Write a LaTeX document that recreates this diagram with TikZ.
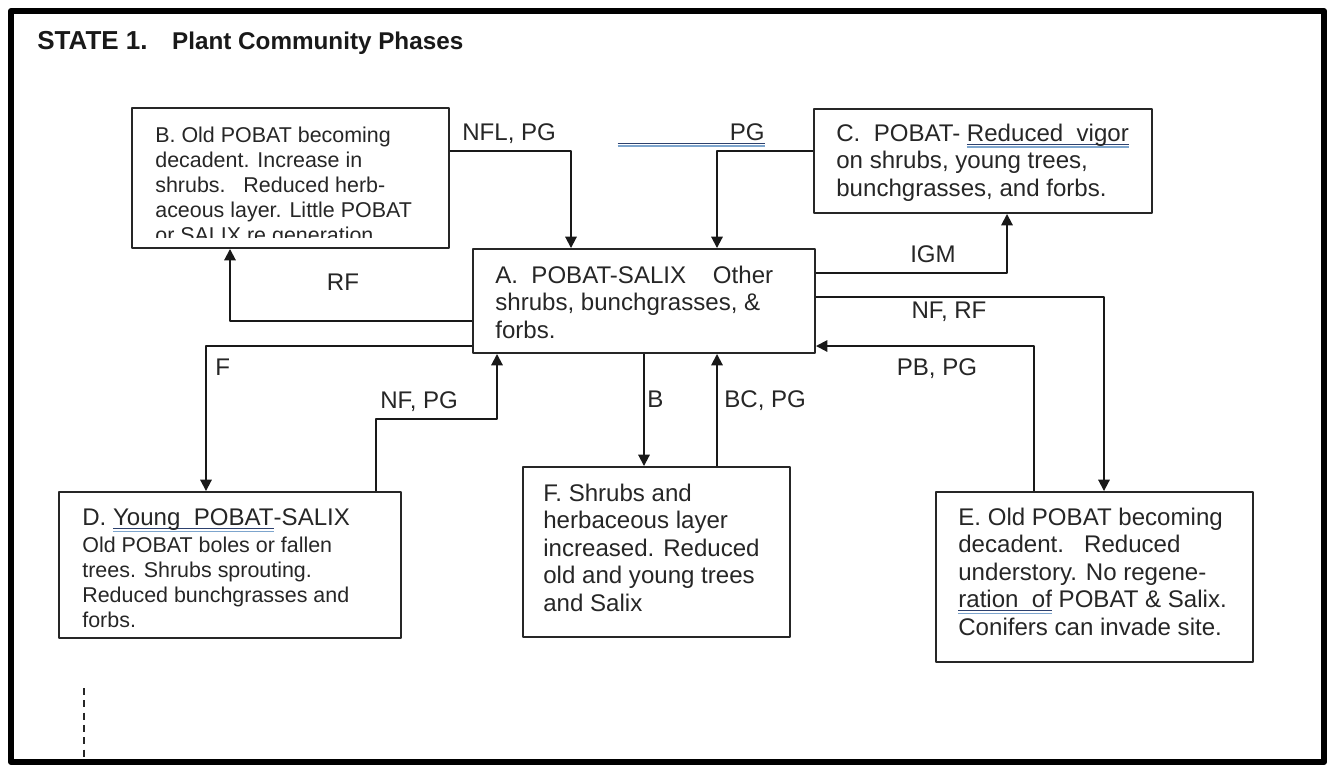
\documentclass[tikz,border=0pt]{standalone}
\usepackage{fontspec}
\setmainfont{Liberation Sans}
\usetikzlibrary{arrows.meta,fit}
\definecolor{ulnavy}{RGB}{45,65,110}
\definecolor{ulblue}{RGB}{125,165,205}
\newsavebox{\ulbox}
\newcommand{\gramul}[1]{\leavevmode\sbox{\ulbox}{#1}\rlap{\textcolor{ulnavy}{\rule[-2.2pt]{\wd\ulbox}{0.6pt}}}\rlap{\textcolor{ulblue}{\rule[-3.8pt]{\wd\ulbox}{0.8pt}}}\usebox{\ulbox}}
\newcommand{\bigtxt}{\fontsize{13.7}{15.65}\selectfont}
\newcommand{\smalltxt}{\fontsize{12.2}{14.2}\selectfont}
\begin{document}
\begin{tikzpicture}[x=0.02cm,y=-0.02cm,>={Triangle[width=6.5pt,length=6.5pt]},line join=round,
	box/.style={draw=black!85,line width=1.1pt,inner sep=0pt,fit={#1}},
	txt/.style={anchor=base west,inner sep=0pt,align=left,text=black!85,font=\bigtxt},
	lbl/.style={anchor=base west,inner sep=0pt,text=black!85,font=\bigtxt},
	arr/.style={->,draw=black!90,line width=1.1pt}]
		\useasboundingbox (0,0) rectangle (1328,765);
		\draw[line width=3.4pt] (11,11) rectangle (1324,762);
		\node[anchor=base west,inner sep=0pt,text=black!90,font=\bfseries\fontsize{14.8}{16}\selectfont] (title) at (37,49) {STATE 1.\hspace{14pt}{\fontsize{13.8}{16}\selectfont Plant Community Phases}};
		\node[box={(473,249) (815,353)}] (A) {};
		\node[box={(132,108) (449,248)}] (B) {};
		\node[box={(814,109) (1152,213)}] (C) {};
		\node[box={(59,492) (401,638)}] (D) {};
		\node[box={(936,492) (1253,662)}] (E) {};
		\node[box={(523,467) (790,637)}] (F) {};
		\node[txt] (Atext) at (495,338) {A.\ \ POBAT-SALIX\ \ \ \ Other\\shrubs, bunchgrasses, \&\\forbs.};
		\begin{scope}
		\clip (132,108) rectangle (449,237);
		\node[txt,font=\smalltxt] (Btext) at (155,242) {B. Old POBAT becoming\\decadent. Increase in\\shrubs.\ \ \ Reduced herb-\\aceous layer. Little POBAT\\or SALIX re generation};
		\end{scope}
		\node[txt] (Ctext) at (836,196) {C.\ \ POBAT- \gramul{Reduced\ \ vigor}\\on shrubs, young trees,\\bunchgrasses, and forbs.};
		\node[txt,font=\smalltxt] (Dtext) at (82,627) {{\bigtxt D. \gramul{Young\ \ POBAT}-SALIX}\\[1.1pt]Old POBAT boles or fallen\\trees. Shrubs sprouting.\\Reduced bunchgrasses and\\forbs.};
		\node[txt] (Etext) at (958,635) {E. Old POBAT becoming\\decadent.\ \ \ Reduced\\understory. No regene-\\\gramul{ration\ \ of} POBAT \& Salix.\\Conifers can invade site.};
		\node[txt] (Ftext) at (543,611) {F. Shrubs and\\herbaceous layer\\increased. Reduced\\old and young trees\\and Salix};
		\node[lbl] (lNFLPG) at (462,140) {NFL, PG};
		\node[lbl,anchor=base east] (lPG) at (765,140) {\gramul{\makebox[2.94cm][r]{PG}}};
		\node[lbl,anchor=base] (lIGM) at (933,262) {IGM};
		\node[lbl,anchor=base] (lNFRF) at (949,318) {NF, RF};
		\node[lbl,anchor=base] (lPBPG) at (937,375) {PB, PG};
		\node[lbl,anchor=base] (lRF) at (343,290) {RF};
		\node[lbl] (lF) at (215,375) {F};
		\node[lbl] (lNFPG) at (380,408) {NF, PG};
		\node[lbl] (lB) at (647,407) {B};
		\node[lbl] (lBCPG) at (724,407) {BC, PG};
		\draw[arr] (B.east|-0,151) -| (A.north-|571,0);
		\draw[arr] (C.west|-0,151) -| (A.north-|717,0);
		\draw[arr] (A.east|-0,273) -| (C.south-|1007,0);
		\draw[arr] (A.east|-0,297) -| (E.north-|1104,0);
		\draw[arr] (E.north-|1034,0) |- (A.east|-0,346);
		\draw[arr] (A.south-|644,0) -- (F.north-|644,0);
		\draw[arr] (F.north-|717,0) -- (A.south-|717,0);
		\draw[arr] (A.west|-0,346) -| (D.north-|206,0);
		\draw[arr] (A.west|-0,321) -| (B.south-|230,0);
		\draw[arr] (D.north-|376,0) -- (376,419) -| (A.south-|497,0);
		\draw[black!85,line width=0.6pt,dash pattern=on 4pt off 3pt] (84,688) -- (84,760);
\end{tikzpicture}
\end{document}
